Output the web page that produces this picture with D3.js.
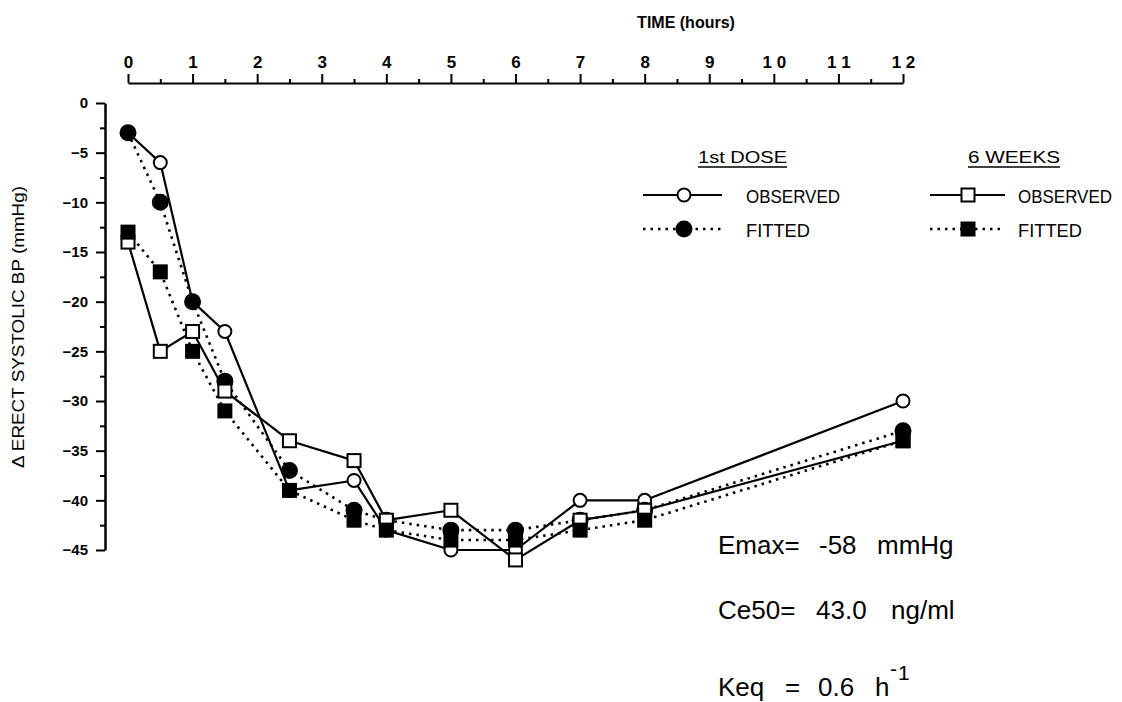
<!DOCTYPE html>
<html>
<head>
<meta charset="utf-8">
<script src="https://cdn.jsdelivr.net/npm/d3@7"></script>
<style>
  html, body { margin: 0; padding: 0; background: #fff; }
  svg { display: block; }
  text { font-family: "Liberation Sans", Arial, Helvetica, sans-serif; fill: #000; }
</style>
</head>
<body>
<svg id="chart" width="1122" height="702"></svg>
<script>
// ---------- data ----------
const times = [0, 0.5, 1, 1.5, 2.5, 3.5, 4, 5, 6, 7, 8, 12];
const observed1st = [-3, -6, -20, -23, -39, -38, -43, -45, -45, -40, -40, -30];
const fitted1st   = [-3, -10, -20, -28, -37, -41, -42, -43, -43, -42, -41, -33];
const observed6wk = [-14, -25, -23, -29, -34, -36, -42, -41, -46, -42, -41, -34];
const fitted6wk   = [-13, -17, -25, -31, -39, -42, -43, -44, -44, -43, -42, -34];

const xMajorTicks = [0, 1, 2, 3, 4, 5, 6, 7, 8, 9, 10, 11, 12];
const xMinorTicks = [0.5, 1.5, 2.5, 3.5, 4.5, 5.5, 6.5, 7.5, 8.5, 9.5, 10.5, 11.5];
const yMajorTicks = [0, -5, -10, -15, -20, -25, -30, -35, -40, -45];
const yMinorTicks = [-2.5, -7.5, -12.5, -17.5, -22.5, -27.5, -32.5, -37.5, -42.5];

const xTitle = "TIME (hours)";
const yTitle = "\u0394 ERECT SYSTOLIC BP (mmHg)";
const groupTitles = ["1st DOSE", "6 WEEKS"];
const seriesLabels = ["OBSERVED", "FITTED"];

// ---------- layout ----------
const svg = d3.select("#chart");
const x = d3.scaleLinear().domain([0, 12]).range([128, 903]);
const y = d3.scaleLinear().domain([0, -45]).range([103, 550]);
const axisY0 = 83;   // top axis line
const axisX0 = 105;  // left axis line

svg.append("rect").attr("width", 1122).attr("height", 702).attr("fill", "#fff");

// ---------- top x axis ----------
const gx = svg.append("g").attr("transform", `translate(0,${axisY0})`);
gx.call(d3.axisTop(x).tickValues(xMajorTicks).tickSize(9).tickSizeOuter(0).tickPadding(6)
  .tickFormat(d => d >= 10 ? String(d).split("").join(" ") : d));
gx.select(".domain").attr("stroke", "#000").attr("stroke-width", 2);
gx.selectAll(".tick line").attr("stroke", "#000").attr("stroke-width", 2);
gx.selectAll(".tick text").attr("font-size", 17).attr("font-weight", "bold")
  .style("white-space", "pre").attr("fill", "#000");
const gxm = svg.append("g").attr("transform", `translate(0,${axisY0})`);
gxm.call(d3.axisTop(x).tickValues(xMinorTicks).tickSize(4).tickSizeOuter(0).tickFormat(""));
gxm.select(".domain").remove();
gxm.selectAll(".tick line").attr("stroke", "#000").attr("stroke-width", 2);

svg.append("text").attr("x", 686).attr("y", 28).attr("text-anchor", "middle")
  .attr("font-size", 16).attr("font-weight", "bold").text(xTitle);

// ---------- left y axis ----------
const gy = svg.append("g").attr("transform", `translate(${axisX0},0)`);
gy.call(d3.axisLeft(y).tickValues(yMajorTicks).tickSize(9).tickSizeOuter(0).tickPadding(8));
gy.select(".domain").attr("stroke", "#000").attr("stroke-width", 2.5);
gy.selectAll(".tick line").attr("stroke", "#000").attr("stroke-width", 2);
gy.selectAll(".tick text").attr("font-size", 15).attr("font-weight", "bold").attr("fill", "#000");
const gym = svg.append("g").attr("transform", `translate(${axisX0},0)`);
gym.call(d3.axisLeft(y).tickValues(yMinorTicks).tickSize(5).tickSizeOuter(0).tickFormat(""));
gym.select(".domain").remove();
gym.selectAll(".tick line").attr("stroke", "#000").attr("stroke-width", 2);

svg.append("text")
  .attr("transform", "translate(24,327) rotate(-90)")
  .attr("text-anchor", "middle").attr("font-size", 16)
  .attr("textLength", 282).attr("lengthAdjust", "spacingAndGlyphs")
  .text(yTitle);

// ---------- series ----------
const pts = vals => times.map((t, i) => [t, vals[i]]);
const line = d3.line().x(d => x(d[0])).y(d => y(d[1]));
const fit1 = { vals: fitted1st,   dotted: true,  shape: "circle", filled: true };
const fit2 = { vals: fitted6wk,   dotted: true,  shape: "square", filled: true };
const obs1 = { vals: observed1st, dotted: false, shape: "circle", filled: false };
const obs2 = { vals: observed6wk, dotted: false, shape: "square", filled: false };
const series = [fit1, fit2, obs1, obs2];

const gLines = svg.append("g");
series.forEach(s => {
  gLines.append("path").datum(pts(s.vals))
    .attr("d", line).attr("fill", "none").attr("stroke", "#000")
    .attr("stroke-width", s.dotted ? 2.6 : 2.2)
    .attr("stroke-dasharray", s.dotted ? "2.5,5" : null)
    .attr("stroke-linejoin", "round");
});

function drawMarker(g, shape, filled, cx, cy) {
  if (shape === "circle") {
    g.append("circle").attr("cx", cx).attr("cy", cy).attr("r", filled ? 7.5 : 6.5)
      .attr("fill", filled ? "#000" : "#fff").attr("stroke", "#000").attr("stroke-width", 2);
  } else {
    const s = 13;
    g.append("rect").attr("x", cx - s / 2).attr("y", cy - s / 2).attr("width", s).attr("height", s)
      .attr("fill", filled ? "#000" : "#fff").attr("stroke", "#000").attr("stroke-width", 2);
  }
}
// stacking order as in the reference
const gMarks = svg.append("g");
[obs1, fit1, obs2, fit2].forEach(s => {
  pts(s.vals).forEach(d => drawMarker(gMarks, s.shape, s.filled, x(d[0]), y(d[1])));
});

// ---------- legend ----------
const legend = [
  { title: groupTitles[0], tx: 698, tw: 89, lx0: 643, lx1: 722, mx: 684, textX: 746, shape: "circle" },
  { title: groupTitles[1], tx: 968, tw: 92, lx0: 930, lx1: 1005, mx: 968, textX: 1018, shape: "square" }
];
legend.forEach(L => {
  svg.append("text").attr("x", L.tx).attr("y", 163).attr("font-size", 16)
    .attr("textLength", L.tw).attr("lengthAdjust", "spacingAndGlyphs").text(L.title);
  svg.append("line").attr("x1", L.tx).attr("x2", L.tx + L.tw).attr("y1", 167).attr("y2", 167)
    .attr("stroke", "#000").attr("stroke-width", 1.5);
  svg.append("line").attr("x1", L.lx0).attr("x2", L.lx1).attr("y1", 195).attr("y2", 195)
    .attr("stroke", "#000").attr("stroke-width", 2.2);
  drawMarker(svg, L.shape, false, L.mx, 195);
  svg.append("text").attr("x", L.textX).attr("y", 203).attr("font-size", 19)
    .attr("textLength", 94).attr("lengthAdjust", "spacingAndGlyphs").text(seriesLabels[0]);
  svg.append("line").attr("x1", L.lx0).attr("x2", L.lx1).attr("y1", 229).attr("y2", 229)
    .attr("stroke", "#000").attr("stroke-width", 2.6).attr("stroke-dasharray", "2.5,5");
  drawMarker(svg, L.shape, true, L.mx, 229);
  svg.append("text").attr("x", L.textX).attr("y", 237).attr("font-size", 19)
    .attr("textLength", 64).attr("lengthAdjust", "spacingAndGlyphs").text(seriesLabels[1]);
});

// ---------- parameter annotations ----------
const ann = svg.append("g").attr("font-size", 26);
const t1 = ann.append("text").attr("y", 554);
t1.append("tspan").attr("x", 718).text("Emax=");
t1.append("tspan").attr("x", 819).text("-58");
t1.append("tspan").attr("x", 877).text("mmHg");
const t2 = ann.append("text").attr("y", 619);
t2.append("tspan").attr("x", 718).text("Ce50=");
t2.append("tspan").attr("x", 816).text("43.0");
t2.append("tspan").attr("x", 891).text("ng/ml");
const t3 = ann.append("text").attr("y", 696);
t3.append("tspan").attr("x", 718).text("Keq");
t3.append("tspan").attr("x", 785).text("=");
t3.append("tspan").attr("x", 818).text("0.6");
t3.append("tspan").attr("x", 875).text("h");
t3.append("tspan").attr("x", 890).attr("y", 676).attr("font-size", 21).text("-");
t3.append("tspan").attr("x", 898).attr("y", 680).attr("font-size", 21).text("1");
</script>
</body>
</html>
